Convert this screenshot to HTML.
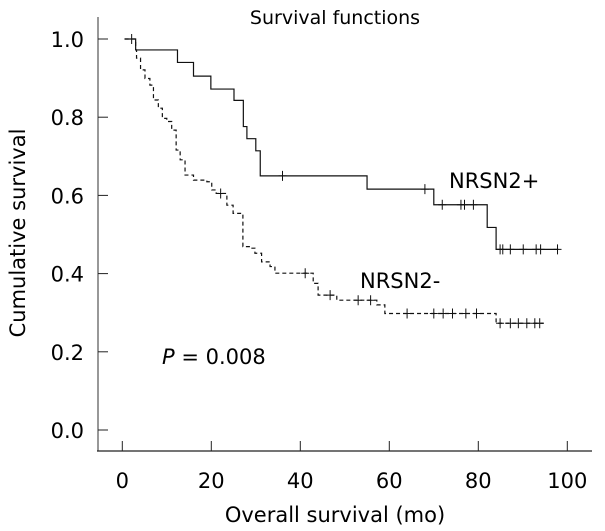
<!DOCTYPE html>
<html><head><meta charset="utf-8"><style>
html,body{margin:0;padding:0;background:#fff;}
svg{display:block;font-family:"DejaVu Sans","Liberation Sans",sans-serif;}
</style></head><body>
<svg id="chart" width="605" height="531" viewBox="0 0 605 531">
<text x="335" y="24" font-size="19" text-anchor="middle">Survival functions</text>
<text transform="translate(25,233) rotate(-90)" font-size="21" text-anchor="middle">Cumulative survival</text>
<text x="335" y="522" font-size="21" text-anchor="middle">Overall survival (mo)</text>
<line x1="98" y1="17" x2="98" y2="451" stroke="#777" stroke-width="1.5"/>
<line x1="97" y1="451" x2="592" y2="451" stroke="#222" stroke-width="1.2"/>
<g id="axes"></g>
<g id="series"></g>
<text x="162" y="364" font-size="21"><tspan font-style="italic">P</tspan> = 0.008</text>
<text x="449" y="188" font-size="21">NRSN2+</text>
<text x="360" y="288" font-size="21">NRSN2-</text>
</svg>
<script>
const xTicks = [0, 20, 40, 60, 80, 100];
const yTicks = [0.0, 0.2, 0.4, 0.6, 0.8, 1.0];
const posTimes = [3, 12.4, 16, 19.9, 25.1, 27.2, 28, 30, 31, 55, 70, 82, 84];
const posSurv = [0.972, 0.940, 0.905, 0.872, 0.843, 0.776, 0.745, 0.714, 0.650, 0.616, 0.576, 0.518, 0.462];
const posCensor = [2.1, 36, 68, 71.9, 76.1, 76.9, 78.9, 84.9, 85.5, 87.2, 90.1, 93, 94, 97.8];
const posEnd = 98;
const negTimes = [3, 3.2, 4.1, 5.1, 6.2, 7.0, 8.1, 9.0, 10.0, 11.1, 12.1, 13.0, 14.1, 16.0, 19.0, 20.1, 21.1, 23.5, 24.9, 27.1, 28.7, 29.8, 31.3, 33.2, 34.3, 42.9, 44.0, 48.2, 57.2, 59, 84];
const negSurv = [0.972, 0.951, 0.921, 0.899, 0.882, 0.844, 0.823, 0.797, 0.789, 0.767, 0.716, 0.691, 0.652, 0.639, 0.635, 0.614, 0.605, 0.575, 0.554, 0.469, 0.465, 0.452, 0.430, 0.418, 0.401, 0.375, 0.345, 0.332, 0.320, 0.298, 0.273];
const negCensor = [22.1, 41.1, 46.7, 53, 55.8, 64, 70, 72.1, 74.2, 77.2, 79.6, 84.9, 87.2, 89, 90.9, 92.7, 93.8];
const negEnd = 94.7;

const NS = "http://www.w3.org/2000/svg";
const xs = t => 122.3 + t * 4.45;
const ys = s => 430 - s * 391;
function mk(tag, attrs, parent) {
  const e = document.createElementNS(NS, tag);
  for (const k in attrs) e.setAttribute(k, attrs[k]);
  parent.appendChild(e);
  return e;
}
const ax = document.getElementById('axes');
xTicks.forEach(v => {
  const l = mk('line', {x1: xs(v), x2: xs(v), y1: 441, y2: 451, stroke: '#222'}, ax);
  
  
  const t = mk('text', {x: xs(v), y: 488, 'font-size': 21, 'text-anchor': 'middle'}, ax);
  t.textContent = v;
  
  
});
yTicks.forEach(v => {
  const l = mk('line', {x1: 98, x2: 108, y1: ys(v), y2: ys(v), stroke: '#222'}, ax);
  
  
  const t = mk('text', {x: 84, y: ys(v) + 8, 'font-size': 21, 'text-anchor': 'end'}, ax);
  t.textContent = v.toFixed(1);
  
  
});
function survAt(times, surv, t) {
  let s = 1;
  for (let i = 0; i < times.length; i++) if (times[i] <= t) s = surv[i];
  return s;
}
function drawCurve(times, surv, censor, end, dash, name) {
  const g = document.getElementById('series');
  let d = 'M' + xs(0.5) + ' ' + ys(1);
  let s = 1;
  times.forEach((t, i) => {
    d += ' H' + xs(t) + ' V' + ys(surv[i]);
    s = surv[i];
  });
  d += ' H' + xs(end);
  const p = mk('path', {d: d, fill: 'none', stroke: '#111', 'stroke-width': 1.2, 'stroke-dasharray': dash}, g);
  
  
  censor.forEach(t => {
    const x = xs(t), y = ys(survAt(times, surv, t));
    const c = mk('path', {d: 'M' + x + ' ' + (y - 5) + ' V' + (y + 5) + ' M' + (x - 4) + ' ' + y + ' H' + (x + 4), stroke: '#111', 'stroke-width': 1}, g);
    
    
  });
}
drawCurve(posTimes, posSurv, posCensor, posEnd, 'none', 'nrsn2-pos');
drawCurve(negTimes, negSurv, negCensor, negEnd, '4,3', 'nrsn2-neg');
</script>
</body></html>
